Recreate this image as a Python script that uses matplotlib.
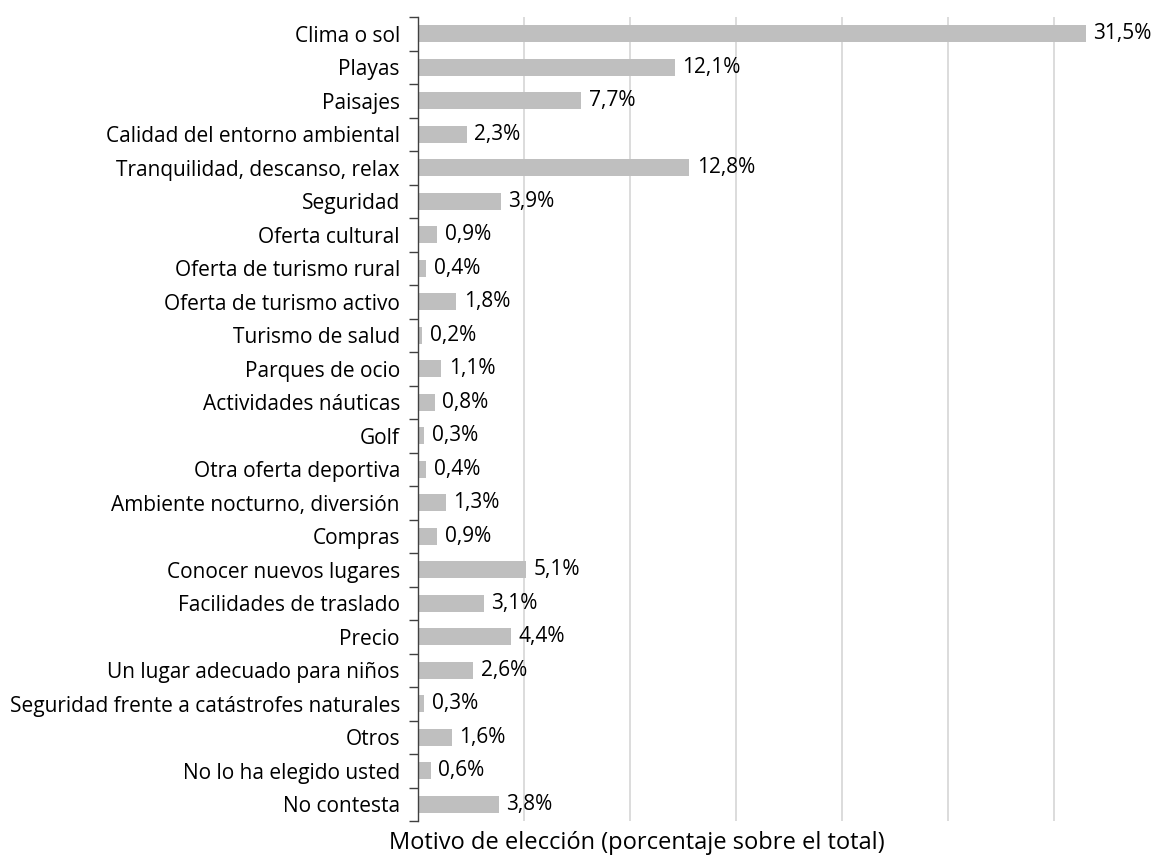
import matplotlib
matplotlib.use("Agg")
import matplotlib.pyplot as plt
import numpy as np

categories = ["Clima o sol", "Playas", "Paisajes", "Calidad del entorno ambiental",
              "Tranquilidad, descanso, relax", "Seguridad", "Oferta cultural",
              "Oferta de turismo rural", "Oferta de turismo activo", "Turismo de salud",
              "Parques de ocio", "Actividades náuticas", "Golf", "Otra oferta deportiva",
              "Ambiente nocturno, diversión", "Compras", "Conocer nuevos lugares",
              "Facilidades de traslado", "Precio", "Un lugar adecuado para niños",
              "Seguridad frente a catástrofes naturales", "Otros",
              "No lo ha elegido usted", "No contesta"]
values = [31.5, 12.1, 7.7, 2.3, 12.8, 3.9, 0.9, 0.4, 1.8, 0.2, 1.1, 0.8, 0.3, 0.4,
          1.3, 0.9, 5.1, 3.1, 4.4, 2.6, 0.3, 1.6, 0.6, 3.8]
xlabel = "Motivo de elección (porcentaje sobre el total)"

plt.rcParams['font.family'] = ['Open Sans', 'DejaVu Sans']
FS = 15
W, H = 1153, 856
fig = plt.figure(figsize=(W/100, H/100), dpi=100)
left, right = 418, 1153
top, bottom = 17, 821
ax = fig.add_axes([left/W, 1-bottom/H, (right-left)/W, (bottom-top)/H])

n = len(categories)
y = np.arange(n)
ax.barh(y, values, height=0.5, color="#BFBFBF", zorder=2)
ax.set_ylim(n-0.5, -0.5)
ax.set_xlim(0, (right-left)/21.2)
ax.set_xticks([5, 10, 15, 20, 25, 30])
ax.set_xticklabels([])
ax.tick_params(axis='x', length=0)
ax.grid(axis='x', color="#D9D9D9", linewidth=1.3, zorder=0)

ax.set_yticks(y)
ax.set_yticklabels(categories, fontsize=FS, color="#000000")
ax.tick_params(axis='y', which='major', length=0, pad=13)
ax.set_yticks(np.arange(-0.5, n, 1.0), minor=True)
ax.tick_params(axis='y', which='minor', length=6.5, width=1, color="#404040")

for s in ['top', 'right', 'bottom']:
    ax.spines[s].set_visible(False)
ax.spines['left'].set_color("#404040")
ax.spines['left'].set_linewidth(1)

for yi, v in zip(y, values):
    ax.text(v + 0.35, yi, f"{v:.1f}%".replace('.', ','), va='center', ha='left',
            fontsize=FS, color="#000000")

fig.text(637/W, 1-843/H, xlabel, ha='center', va='center', fontsize=17)

fig.savefig("out.png", dpi=100)
